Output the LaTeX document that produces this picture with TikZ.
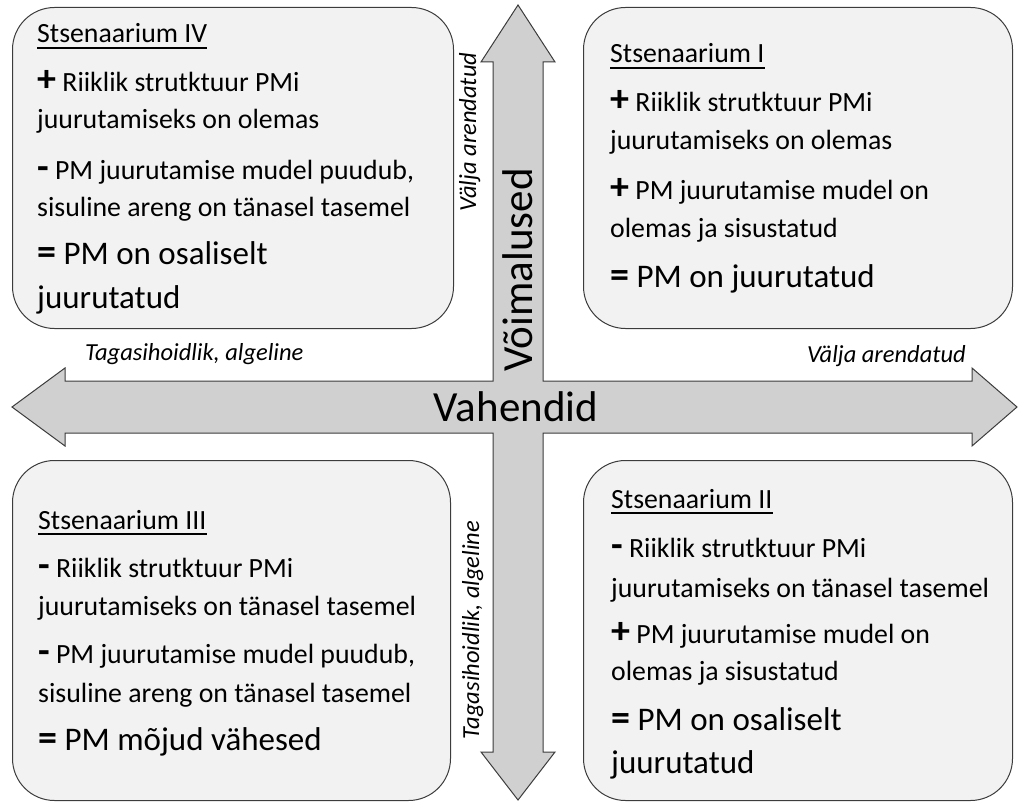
\documentclass[tikz,border=0pt]{standalone}
\usepackage{fontspec}
\setmainfont{Carlito}
\definecolor{arrowgray}{RGB}{208,208,208}
\definecolor{boxgray}{RGB}{242,242,242}
\definecolor{edgegray}{RGB}{60,60,60}
% bold signs set larger than the running text
\newcommand{\sgn}[1]{{\fontsize{38}{38}\selectfont\bfseries #1}}
\begin{document}
\begin{tikzpicture}[x=1pt,y=-1pt,
  scbox/.style={draw=edgegray, fill=boxgray, line width=1pt, rounded corners=42pt,
                rectangle, anchor=north west, inner sep=0pt},
  body/.style={anchor=base west, inner sep=0pt, font=\fontsize{27.8}{30}\selectfont},
  result/.style={anchor=base west, inner sep=0pt, font=\fontsize{33}{36}\selectfont},
  axislabel/.style={inner sep=0pt, font=\fontsize{43}{46}\selectfont},
  tag/.style={inner sep=0pt, font=\fontsize{24.5}{27}\selectfont\itshape},
  uline/.style={line width=1.6pt, black},
]
\useasboundingbox (0,0) rectangle (1019,802);

% scenario boxes
\node[scbox, minimum width=441pt, minimum height=321pt] (b4) at (12,7) {};
\node[scbox, minimum width=429pt, minimum height=321pt] (b1) at (583,7) {};
\node[scbox, minimum width=438pt, minimum height=340pt] (b3) at (12,460) {};
\node[scbox, minimum width=429pt, minimum height=340pt] (b2) at (583,460) {};

% the two double arrows, outlined as one cross
\draw[draw=edgegray, fill=arrowgray, line width=1pt, line join=miter]
  (518,5) -- (555,62) -- (543,62) -- (543,381) -- (972,381) -- (972,368)
  -- (1017,407) -- (972,446) -- (972,433) -- (543,433) -- (543,752)
  -- (555,752) -- (518,800) -- (481,752) -- (493,752) -- (493,433)
  -- (65,433) -- (65,446) -- (12,407) -- (65,368) -- (65,381)
  -- (493,381) -- (493,62) -- (481,62) -- cycle;

% axis names
\node[axislabel] (vah) at (516,407) {Vahendid};
\node[axislabel, rotate=90] (voi) at (518,270) {Võimalused};

% axis end labels
\node[tag, anchor=base west] (hlow) at (85,360) {Tagasihoidlik, algeline};
\node[tag, anchor=base east] (hhigh) at (966,362) {Välja arendatud};
\node[tag, anchor=base, rotate=90] (vhigh) at (476,132) {Välja arendatud};
\node[tag, anchor=base, rotate=90] (vlow) at (479,630) {Tagasihoidlik, algeline};

% Stsenaarium IV
\node[body] (t4a) at (37,43) {Stsenaarium IV};
\node[body] (t4b) at (37,92) {\sgn{+} Riiklik strutktuur PMi};
\node[body] (t4c) at (37,129) {juurutamiseks on olemas};
\node[body] (t4d) at (37,180) {\sgn{-} PM juurutamise mudel puudub,};
\node[body] (t4e) at (37,217) {sisuline areng on tänasel tasemel};
\node[result] (t4f) at (37,265) {\sgn{=} PM on osaliselt};
\node[result] (t4g) at (37,308) {juurutatud};

% Stsenaarium I
\node[body] (t1a) at (610,63) {Stsenaarium I};
\node[body] (t1b) at (610,112) {\sgn{+} Riiklik strutktuur PMi};
\node[body] (t1c) at (610,150) {juurutamiseks on olemas};
\node[body] (t1d) at (610,200) {\sgn{+} PM juurutamise mudel on};
\node[body] (t1e) at (610,237) {olemas ja sisustatud};
\node[result] (t1f) at (610,287) {\sgn{=} PM on juurutatud};

% Stsenaarium III
\node[body] (t3a) at (38,529) {Stsenaarium III};
\node[body] (t3b) at (38,577) {\sgn{-} Riiklik strutktuur PMi};
\node[body] (t3c) at (38,615) {juurutamiseks on tänasel tasemel};
\node[body] (t3d) at (38,663) {\sgn{-} PM juurutamise mudel puudub,};
\node[body] (t3e) at (38,702) {sisuline areng on tänasel tasemel};
\node[result] (t3f) at (38,750) {\sgn{=} PM mõjud vähesed};

% Stsenaarium II
\node[body] (t2a) at (611,508) {Stsenaarium II};
\node[body] (t2b) at (611,557) {\sgn{-} Riiklik strutktuur PMi};
\node[body] (t2c) at (611,597) {juurutamiseks on tänasel tasemel};
\node[body] (t2d) at (611,643) {\sgn{+} PM juurutamise mudel on};
\node[body] (t2e) at (611,680) {olemas ja sisustatud};
\node[result] (t2f) at (611,730) {\sgn{=} PM on osaliselt};
\node[result] (t2g) at (611,773) {juurutatud};

% title underlines
\foreach \t in {t4a,t1a,t3a,t2a}
  \draw[uline] ([yshift=-5pt]\t.base west) -- ([yshift=-5pt]\t.base east);
\end{tikzpicture}
\end{document}
